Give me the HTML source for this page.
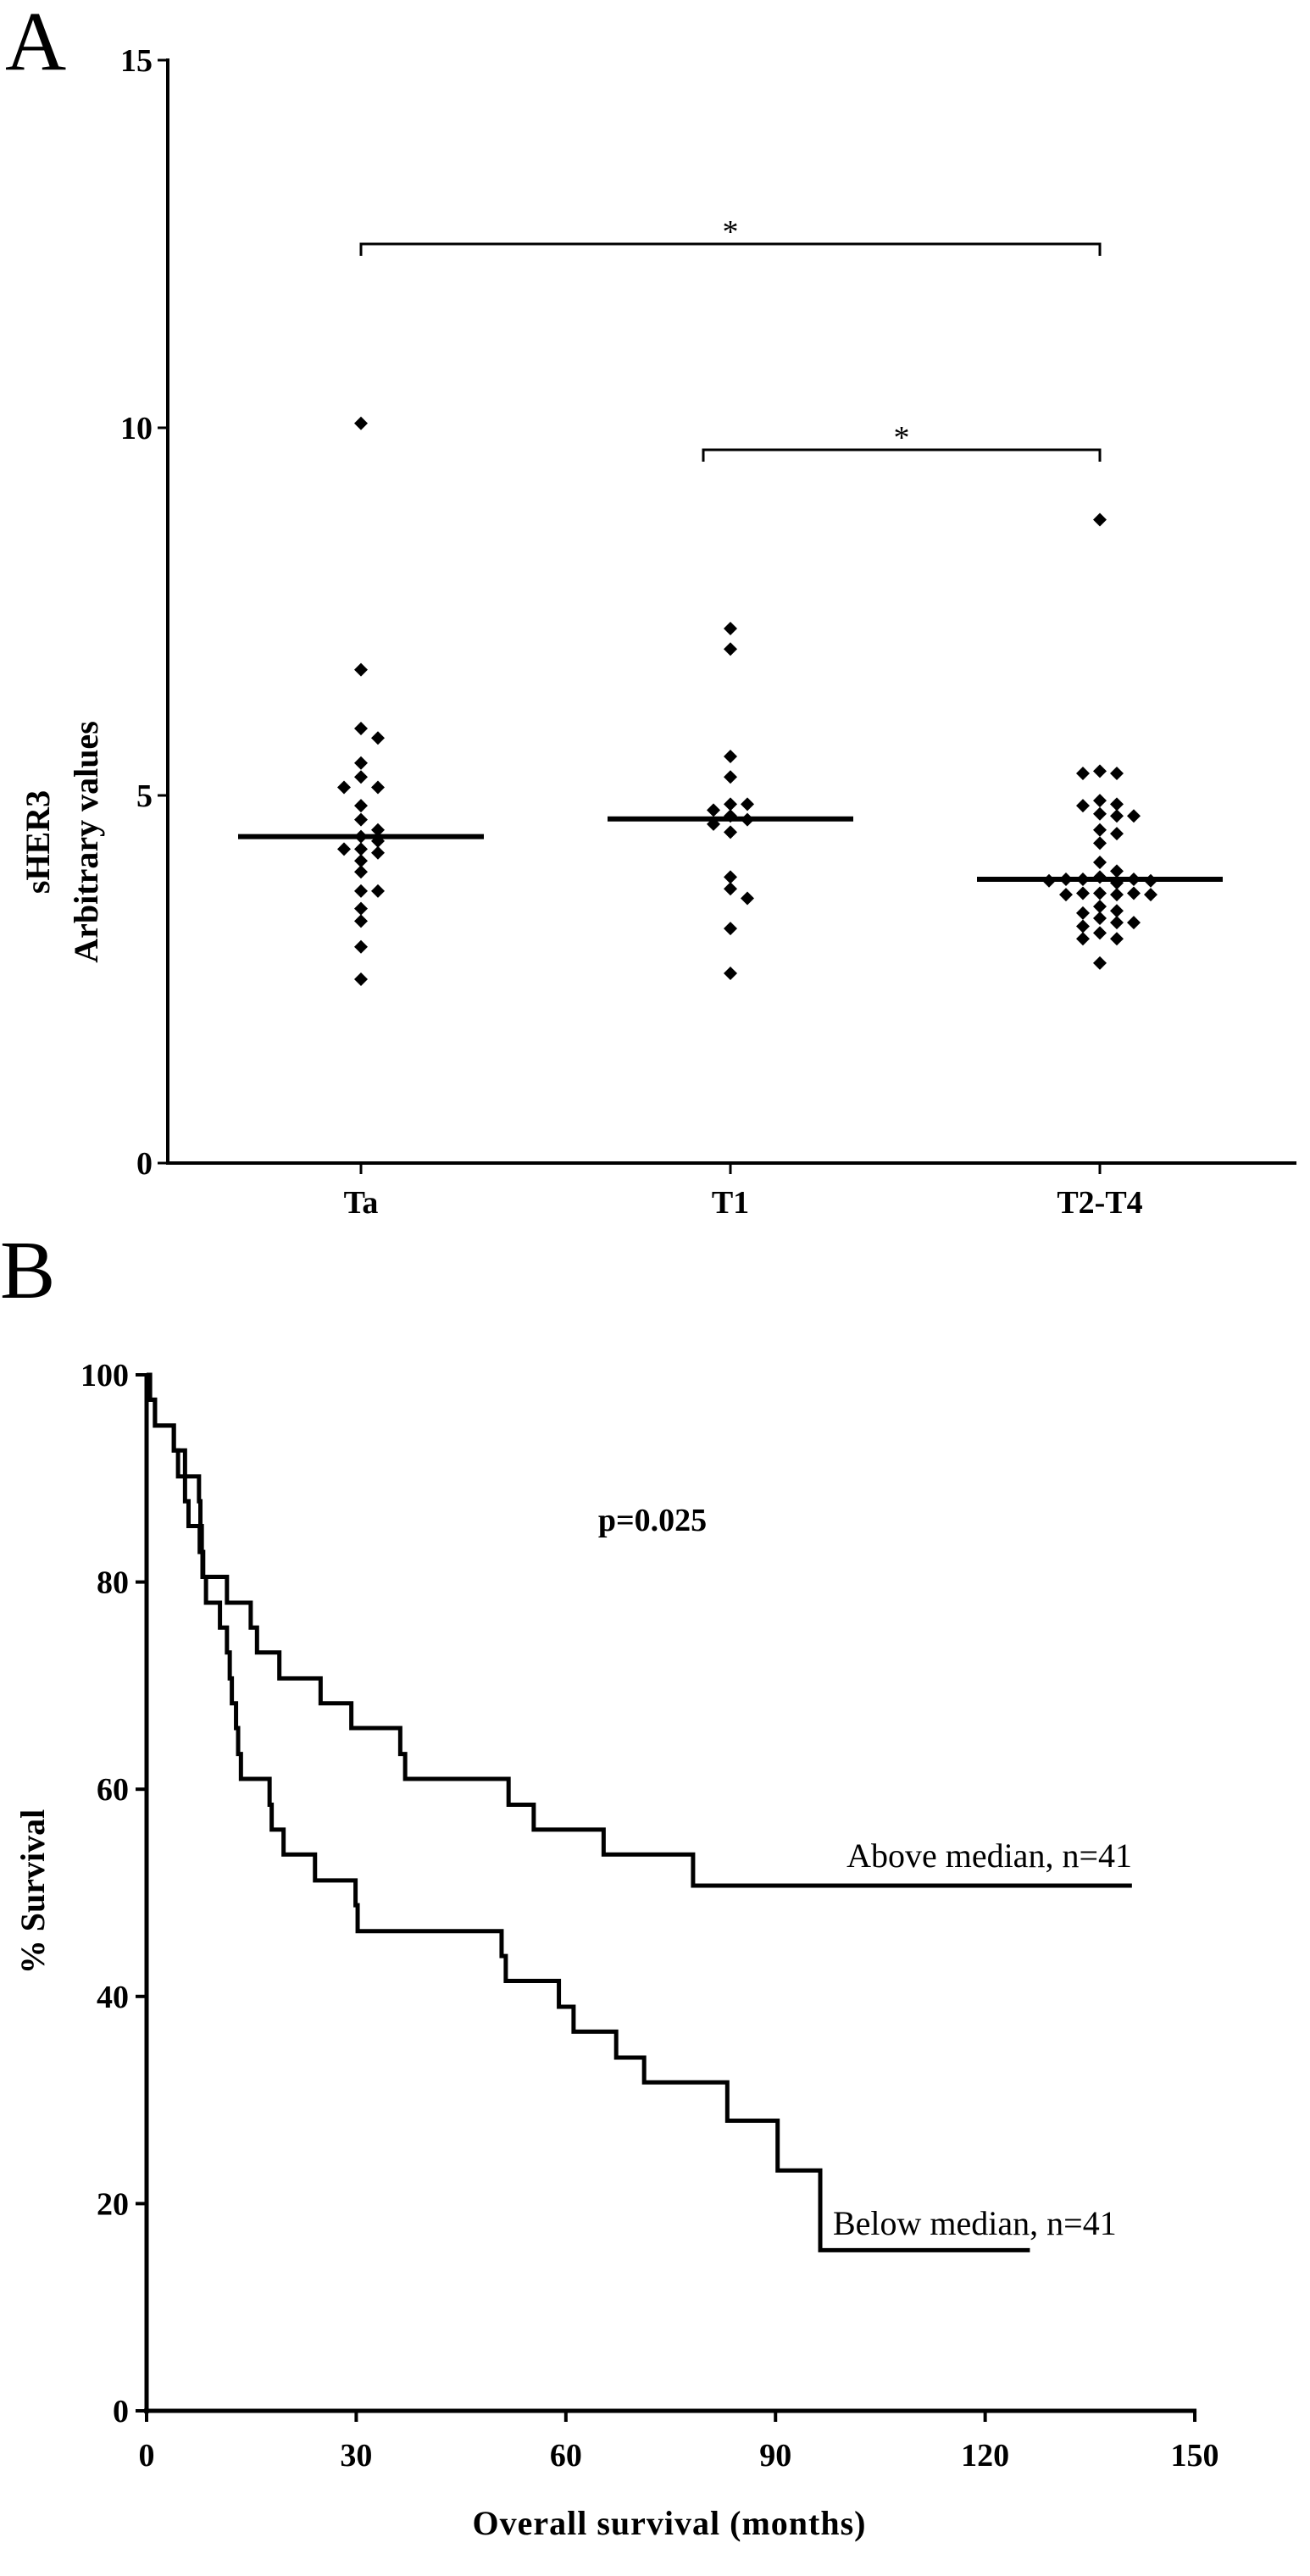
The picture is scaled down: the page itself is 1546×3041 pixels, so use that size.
<!DOCTYPE html>
<html><head><meta charset="utf-8"><style>
html,body{margin:0;padding:0;background:#fff;}
svg{display:block;font-family:"Liberation Serif",serif;}
</style></head><body>
<svg id="fig" width="1546" height="3041" viewBox="0 0 1546 3041" xmlns="http://www.w3.org/2000/svg">
<text x="6" y="82" font-size="100">A</text>
<g id="panelA"></g>
<text x="0" y="1532" font-size="98">B</text>
<g id="panelB"></g>
</svg>
<script>
// ---- Panel A data ----
const catNames = ["Ta","T1","T2-T4"];
const taValues = [10.06,6.71,5.91,5.78,5.44,5.25,5.11,5.11,4.86,4.67,4.53,4.44,4.38,4.27,4.27,4.22,4.11,3.96,3.70,3.70,3.46,3.29,2.94,2.50];
const t1Values = [7.27,6.99,5.53,5.25,4.88,4.88,4.80,4.72,4.67,4.61,4.50,3.89,3.73,3.60,3.19,2.58];
const t2t4Values = [8.75,5.33,5.30,5.30,4.93,4.88,4.86,4.75,4.72,4.72,4.53,4.48,4.35,4.09,3.97,3.89,3.86,3.86,3.86,3.84,3.84,3.81,3.67,3.67,3.67,3.65,3.65,3.65,3.49,3.40,3.43,3.33,3.27,3.27,3.22,3.13,3.05,3.05,2.72];
const medians = [4.44,4.68,3.86];
const yTicksA = [0,5,10,15];
const sigBrackets = [[0,2,12.5],[1,2,9.7]];

// ---- Panel B data ----
const aboveTimes = [0.3,1.2,3.9,5.5,7.5,7.7,7.9,8.1,11.5,14.9,15.8,19.0,24.9,29.3,36.3,37.0,51.8,55.4,65.4,78.2];
const aboveSurv  = [97.6,95.1,92.7,90.2,87.8,85.4,82.9,80.5,78.0,75.6,73.2,70.7,68.3,65.9,63.4,61.0,58.5,56.1,53.7,50.7];
const aboveEnd = 141;
const belowTimes = [0.5,1.2,3.9,4.5,5.5,6.0,7.6,8.0,8.5,10.5,11.5,11.9,12.2,12.8,13.1,13.5,17.6,17.9,19.6,24.1,29.9,30.2,50.8,51.4,59.0,61.1,67.2,71.2,83.1,90.3,96.4];
const belowSurv  = [97.6,95.1,92.7,90.2,87.8,85.4,82.9,80.5,78.0,75.6,73.2,70.7,68.3,65.9,63.4,61.0,58.5,56.1,53.7,51.2,48.8,46.3,43.9,41.5,39.0,36.6,34.1,31.7,28.0,23.2,15.5];
const belowEnd = 126.4;
const xTicksB = [0,30,60,90,120,150];
const yTicksB = [0,20,40,60,80,100];

const NS="http://www.w3.org/2000/svg";
function mk(tag, attrs, parent, txt){
  const e=document.createElementNS(NS,tag);
  for(const k in attrs) e.setAttribute(k,attrs[k]);
  if(txt!==undefined) e.textContent=txt;
  parent.appendChild(e); return e;
}

// ---- Panel A ----
const A=document.getElementById('panelA');
const ayA = v => 1373 - v*86.8;
const axA = i => 426 + i*436;
let e;
e=mk('line',{x1:198,y1:ayA(15)-2,x2:198,y2:1375,stroke:'#000','stroke-width':4},A);


e=mk('line',{x1:196,y1:1373,x2:1530,y2:1373,stroke:'#000','stroke-width':4},A);


yTicksA.forEach(t=>{
  mk('line',{x1:186,y1:ayA(t),x2:198,y2:ayA(t),stroke:'#000','stroke-width':3},A);
  e=mk('text',{x:180,y:ayA(t)+13,'text-anchor':'end','font-size':38,'font-weight':'bold'},A,String(t));
  
  
});
catNames.forEach((c,i)=>{
  mk('line',{x1:axA(i),y1:1373,x2:axA(i),y2:1386,stroke:'#000','stroke-width':3},A);
  e=mk('text',{x:axA(i),y:1432,'text-anchor':'middle','font-size':38,'font-weight':'bold'},A,c);
  
  
});
e=mk('text',{transform:'translate(58,994) rotate(-90)','text-anchor':'middle','font-size':40,'font-weight':'bold'},A,'sHER3');


e=mk('text',{transform:'translate(115,994) rotate(-90)','text-anchor':'middle','font-size':40,'font-weight':'bold'},A,'Arbitrary values');


[taValues,t1Values,t2t4Values].forEach((vals,i)=>{
  const placed=[];
  const sorted=vals.slice().sort((a,b)=>b-a);
  sorted.forEach(v=>{
    const y=ayA(v);
    let off=0;
    for(let k=0;k<40;k++){
      const o = k===0?0:(k%2? 1:-1)*Math.ceil(k/2)*20;
      if(!placed.some(p=>Math.abs(p[0]-o)<18 && Math.abs(p[1]-y)<13)){off=o;break;}
    }
    placed.push([off,y]);
    const cx=axA(i)+off;
    const d=mk('polygon',{points:`${cx},${y-8} ${cx+8},${y} ${cx},${y+8} ${cx-8},${y}`,fill:'#000'},A);
    
    
  });
  const m=mk('line',{x1:axA(i)-145,y1:ayA(medians[i]),x2:axA(i)+145,y2:ayA(medians[i]),stroke:'#000','stroke-width':6},A);
  
  
});
sigBrackets.forEach(b=>{
  const y=ayA(b[2]), x1=axA(b[0])+(b[0]===1?-32:0), x2=axA(b[1]);
  const p=mk('path',{d:`M${x1},${y+14} V${y} H${x2} V${y+14}`,fill:'none',stroke:'#000','stroke-width':3},A);
  
  
  const s=mk('text',{x:(x1+x2)/2,y:y-2,'text-anchor':'middle','font-size':38},A,'*');
  
  
});

// ---- Panel B ----
const B=document.getElementById('panelB');
const bx = t => 173 + t*8.247;
const by = s => 2846 - s*12.23;
e=mk('line',{x1:173,y1:by(100)-2,x2:173,y2:2849,stroke:'#000','stroke-width':5},B);


e=mk('line',{x1:170,y1:2846,x2:bx(150)+2,y2:2846,stroke:'#000','stroke-width':5},B);


yTicksB.forEach(t=>{
  mk('line',{x1:160,y1:by(t),x2:173,y2:by(t),stroke:'#000','stroke-width':4},B);
  e=mk('text',{x:152,y:by(t)+13,'text-anchor':'end','font-size':38,'font-weight':'bold'},B,String(t));
  
  
});
xTicksB.forEach(t=>{
  mk('line',{x1:bx(t),y1:2846,x2:bx(t),y2:2859,stroke:'#000','stroke-width':4},B);
  e=mk('text',{x:bx(t),y:2911,'text-anchor':'middle','font-size':38,'font-weight':'bold'},B,String(t));
  
  
});
e=mk('text',{x:790,y:2992,'text-anchor':'middle','font-size':40,'font-weight':'bold','letter-spacing':'1'},B,'Overall survival (months)');


e=mk('text',{transform:'translate(52,2233) rotate(-90)','text-anchor':'middle','font-size':40,'font-weight':'bold'},B,'% Survival');


e=mk('text',{x:770,y:1807,'text-anchor':'middle','font-size':38,'font-weight':'bold'},B,'p=0.025');


function km(times,surv,end){
  let d=`M${bx(0)},${by(100)}`;
  times.forEach((t,i)=>{ d+=` H${bx(t)} V${by(surv[i])}`; });
  d+=` H${bx(end)}`;
  return d;
}
e=mk('path',{d:km(aboveTimes,aboveSurv,aboveEnd),fill:'none',stroke:'#000','stroke-width':5},B);


e=mk('path',{d:km(belowTimes,belowSurv,belowEnd),fill:'none',stroke:'#000','stroke-width':5},B);


e=mk('text',{x:1336,y:2204,'text-anchor':'end','font-size':40},B,'Above median, n=41');


e=mk('text',{x:983,y:2638,'font-size':40},B,'Below median, n=41');


</script>
</body></html>
